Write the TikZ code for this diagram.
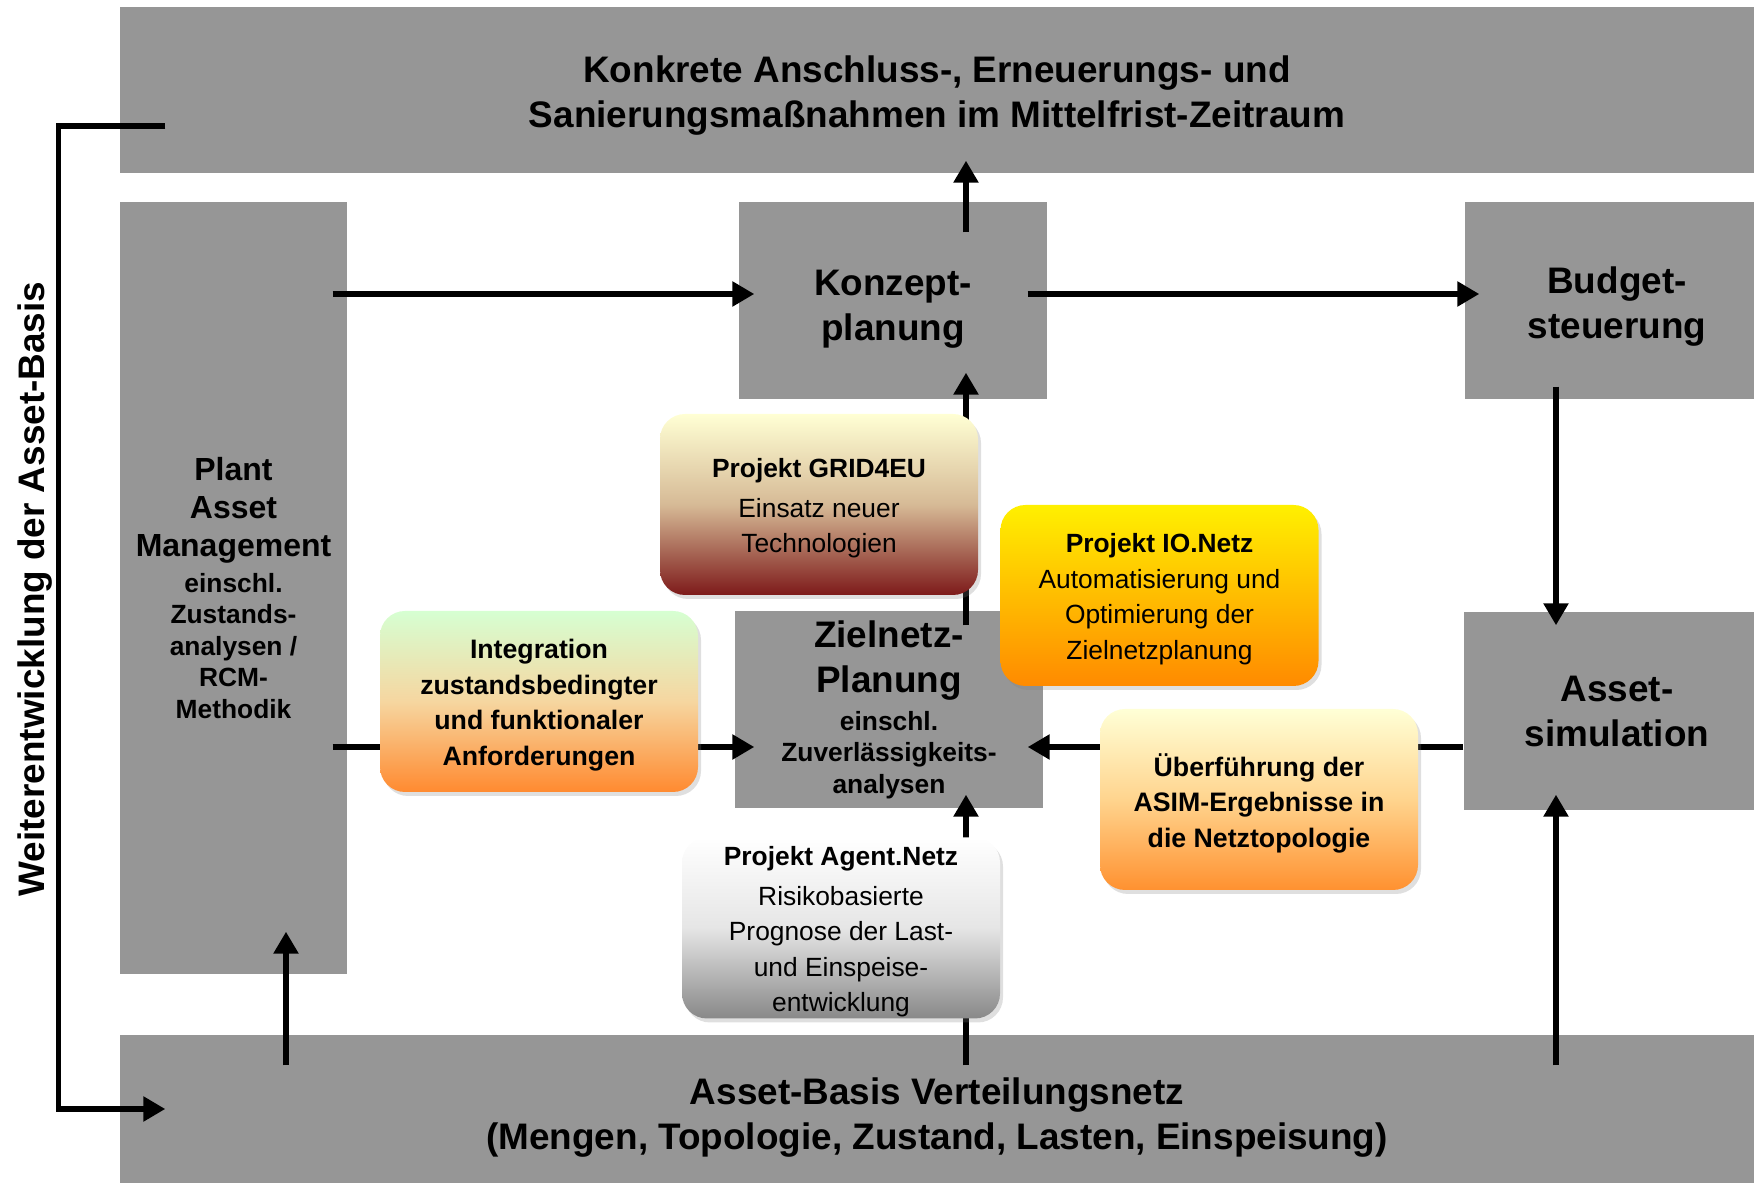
\documentclass[tikz,border=0pt]{standalone}
\usepackage{fontspec}
\setmainfont{Liberation Sans}
\usetikzlibrary{arrows.meta,calc,shadows}
\definecolor{boxgray}{RGB}{150,150,150}
\definecolor{gridtop}{RGB}{255,255,212}
\definecolor{gridmid}{RGB}{214,186,150}
\definecolor{gridbot}{RGB}{125,26,26}
\definecolor{iotop}{RGB}{255,240,0}
\definecolor{iobot}{RGB}{255,138,0}
\definecolor{integtop}{RGB}{214,255,210}
\definecolor{integmid}{RGB}{246,214,160}
\definecolor{integbot}{RGB}{255,138,48}
\definecolor{uebertop}{RGB}{255,255,214}
\definecolor{uebermid}{RGB}{255,212,142}
\definecolor{ueberbot}{RGB}{255,145,48}
\definecolor{agentbot}{RGB}{136,136,136}
\newcommand{\txtstrut}[1]{\rule{0pt}{#1}}
\tikzset{
  graybox/.style={fill=boxgray, inner sep=0pt, align=center,
    font=\bfseries\fontsize{10.5}{12.8}\selectfont},
  projbox/.style={rounded corners=0.25cm, inner xsep=0.06cm, inner ysep=0pt,
    minimum width=3.18cm, minimum height=1.81cm, text width=3.06cm, align=flush center,
    font=\fontsize{7.5}{10.1}\selectfont, execute at end node={\par\vspace{-2pt}},
    drop shadow={opacity=0.25,shadow xshift=0.03cm,shadow yshift=-0.04cm}},
  arr/.style={line width=0.055cm, -{Triangle[length=0.22cm,width=0.24cm]}}
}
\begin{document}
\begin{tikzpicture}
\useasboundingbox (0,0) rectangle (17.54,11.83);
% Gray blocks
\node[graybox, minimum width=16.34cm, minimum height=1.66cm] (top) at (9.37,10.93)
  {\txtstrut{10.9pt}Konkrete Anschluss-, Erneuerungs- und\\Sanierungsmaßnahmen im Mittelfrist-Zeitraum};
\node[graybox, minimum width=2.27cm, minimum height=7.72cm, text width=2.2cm, align=flush center] (plant) at (2.335,5.95)
  {\fontsize{9.1}{10.8}\selectfont Plant\\Asset\\Management\par\vspace{1.2pt}
   \fontsize{7.5}{9}\selectfont einschl.\\Zustands-\\analysen /\\RCM-\\Methodik\par\vspace{-2.8pt}};
\node[graybox, minimum width=3.08cm, minimum height=1.97cm] (konzept) at (8.93,8.825)
  {\txtstrut{12.1pt}Konzept-\\planung};
\node[graybox, minimum width=3.04cm, minimum height=1.97cm] (budget) at (16.17,8.825)
  {\txtstrut{11.2pt}Budget-\\steuerung};
\node[graybox, minimum width=3.08cm, minimum height=1.97cm, text width=3cm, align=flush center] (ziel) at (8.89,4.735)
  {Zielnetz-\\Planung\par\vspace{2pt}
   \fontsize{7.5}{8.9}\selectfont einschl.\\Zuverlässigkeits-\\analysen\par\vspace{-5.8pt}};
\node[graybox, minimum width=3.06cm, minimum height=1.98cm] (asim) at (16.17,4.72) {Asset-\\simulation};
\node[graybox, minimum width=16.34cm, minimum height=1.48cm] (bottom) at (9.37,0.74)
  {\txtstrut{12.5pt}Asset-Basis Verteilungsnetz\\(Mengen, Topologie, Zustand, Lasten, Einspeisung)};
% Side label and loop
\node[rotate=90, font=\bfseries\fontsize{10.5}{12.8}\selectfont] (weiter) at (0.35,5.94)
  {Weiterentwicklung der Asset-Basis};
\draw[arr] ($(top.west)+(0.46,-0.36)$) -| ($(bottom.west)+(-0.61,0)$) -- ($(bottom.west)+(0.46,0)$);
% Arrows
\draw[arr] ($(plant.east |- konzept.west)+(-0.15,0.065)$) -- ($(konzept.west)+(0.16,0.065)$);
\draw[arr] ($(konzept.east)+(-0.2,0.065)$) -- ($(budget.west)+(0.15,0.065)$);
\draw[arr] ($(konzept.north)+(0.73,-0.31)$) -- ($(top.south -| konzept.north)+(0.73,0.13)$);
\draw[arr] ($(ziel.north)+(0.77,-0.15)$) -- ($(konzept.south -| ziel.north)+(0.77,0.27)$);
\draw[arr] ($(plant.east |- ziel.west)+(-0.15,-0.375)$) -- ($(ziel.west)+(0.2,-0.375)$);
\draw[arr] ($(asim.west |- ziel.east)+(0,-0.375)$) -- ($(ziel.east)+(-0.16,-0.375)$);
\draw[arr] ($(budget.south)+(-0.61,0.13)$) -- ($(asim.north -| budget.south)+(-0.61,-0.14)$);
\draw[arr] ($(bottom.north -| asim.south)+(-0.61,-0.31)$) -- ($(asim.south)+(-0.61,0.16)$);
\draw[arr] ($(bottom.north -| ziel.south)+(0.77,-0.31)$) -- ($(ziel.south)+(0.77,0.14)$);
\draw[arr] ($(bottom.north -| plant.south)+(0.525,-0.31)$) -- ($(plant.south)+(0.525,0.43)$);
% Projects
\node[projbox, top color=gridtop, bottom color=gridbot, middle color=gridmid] (grid) at (8.19,6.785)
  {\textbf{Projekt GRID4EU}\\[1.3pt]Einsatz neuer\\Technologien};
\node[projbox, top color=iotop, bottom color=iobot] (ionetz) at (11.595,5.875)
  {\textbf{Projekt IO.Netz}\\Automatisierung und\\Optimierung der\\Zielnetzplanung};
\node[projbox, top color=integtop, bottom color=integbot, middle color=integmid, font=\bfseries\fontsize{7.6}{10.1}\selectfont] (integ) at (5.39,4.815)
  {Integration\\zustandsbedingter\\und funktionaler\\Anforderungen};
\node[projbox, top color=uebertop, bottom color=ueberbot, middle color=uebermid, font=\bfseries\fontsize{7.6}{10.1}\selectfont] (ueber) at (12.59,3.835)
  {Überführung der\\ASIM-Ergebnisse in\\die Netztopologie};
\node[projbox, top color=white, bottom color=agentbot, middle color=black!10] (agent) at (8.41,2.55)
  {\textbf{Projekt Agent.Netz}\\[1.3pt]Risikobasierte\\Prognose der Last-\\und Einspeise-\\entwicklung};
\end{tikzpicture}
\end{document}
